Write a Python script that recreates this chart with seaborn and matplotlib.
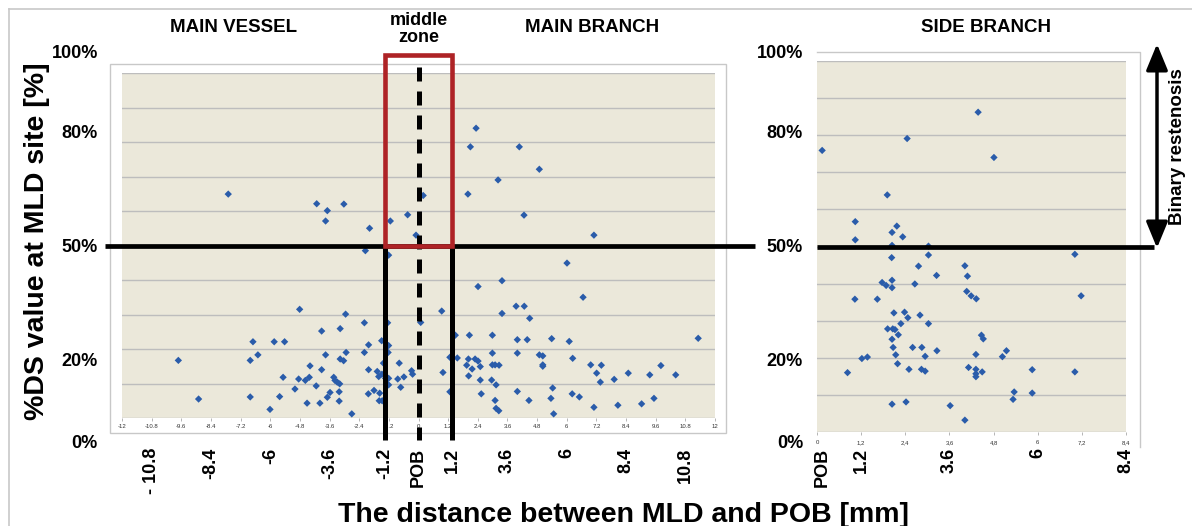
import matplotlib
matplotlib.use("Agg")
import matplotlib.pyplot as plt
import matplotlib.transforms as mtransforms
from matplotlib.patches import Rectangle
import numpy as np
import pandas as pd
import seaborn as sns

plt.rcParams["font.family"] = ["Liberation Sans", "DejaVu Sans"]

# ---------------------------------------------------------------------------
# Data: distance MLD-POB [mm] and %DS at MLD site
# ---------------------------------------------------------------------------
main_dist = [
    -7.70, -4.12, -3.69, -3.02, -3.76, -1.98, -1.14, -0.44, -0.10, -2.15,
    -1.21, 0.19, 2.33, 2.10, 4.08, 4.89, 3.22, 2.00, 4.27, 7.10,
    -4.81, -2.95, -2.19, -1.25, 0.09, -3.92, -3.17, -6.70, -5.84, -5.42,
    -1.49, -2.02, -1.21, -9.72, -6.81, -6.50, -3.76, -2.19, -2.93, -1.23,
    -3.17, -3.03, -0.78, -4.39, -3.92, -1.42, -2.02, -1.67, -0.28, -0.24,
    -5.48, -4.85, -4.58, -4.42, -3.43, -3.38, -3.29, -3.19, -1.61, -1.48,
    -1.33, -1.21, -0.84, -0.59, -4.14, -5.00, -1.21, -0.72, -1.80, -3.58,
    -3.21, -2.03, -1.57, -8.90, -6.81, -5.62, -3.69, -4.51, -3.99, -3.21,
    -1.59, -1.47, -6.01, -2.70,
    6.01, 3.38, 2.41, 6.66, 0.94, 3.95, 4.28, 3.38, 4.50, 1.49,
    2.06, 2.99, 4.00, 4.40, 5.39, 6.10, 11.32, 2.99, 4.00, 4.89,
    5.03, 6.24, 1.27, 1.57, 2.02, 2.29, 2.41, 1.95, 2.17, 2.50,
    2.99, 3.10, 3.26, 5.03, 5.03, 6.97, 7.40, 9.81, 0.99, 2.03,
    7.21, 8.49, 9.36, 10.41, 2.50, 2.96, 3.14, 7.36, 7.92, 5.43,
    2.54, 4.00, 6.22, 6.51, 9.53, 3.10, 4.47, 5.36, 9.03, 8.07,
    7.10, 3.14, 3.25, 5.47, 1.27,
]
main_ds = [
    64.9, 62.1, 60.1, 62.0, 57.1, 55.0, 57.1, 58.9, 53.0, 48.5,
    47.2, 64.5, 84.0, 78.6, 78.6, 72.1, 69.0, 64.9, 58.8, 53.0,
    31.5, 30.1, 27.6, 27.6, 27.7, 25.2, 25.9, 22.1, 22.1, 22.1,
    22.4, 21.2, 21.0, 16.7, 16.7, 18.3, 18.3, 19.0, 19.0, 19.0,
    17.1, 16.6, 15.9, 15.1, 14.0, 15.9, 14.0, 13.5, 13.7, 12.7,
    11.8, 11.3, 10.9, 11.8, 11.8, 10.9, 10.4, 9.9, 12.0, 12.7,
    11.5, 11.5, 11.3, 11.9, 9.3, 8.4, 9.6, 8.9, 8.0, 7.4,
    7.6, 7.0, 7.2, 5.5, 6.1, 6.2, 6.0, 4.3, 4.3, 4.9,
    5.0, 5.0, 2.5, 1.2,
    44.9, 39.8, 38.1, 35.0, 31.0, 32.4, 32.4, 30.3, 28.9, 24.0,
    24.0, 24.0, 22.7, 22.7, 23.0, 22.2, 23.1, 18.8, 18.8, 18.3,
    18.0, 17.3, 17.6, 17.4, 17.1, 17.1, 16.5, 15.3, 14.2, 14.9,
    15.4, 15.4, 15.3, 15.4, 15.0, 15.4, 15.3, 15.2, 13.2, 12.2,
    13.0, 13.0, 12.5, 12.5, 11.0, 11.0, 9.6, 10.4, 11.2, 8.7,
    7.0, 7.7, 7.0, 6.1, 5.7, 5.1, 5.1, 5.7, 4.1, 3.7,
    3.1, 2.8, 2.1, 1.2, 7.6,
]

side_dist = [
    4.38, 2.45, 0.14, 4.81, 1.91, 1.04, 2.17, 2.04, 2.33, 1.04,
    2.04, 3.03, 3.03, 2.03, 7.01, 2.76, 4.02, 3.25, 4.09, 1.77,
    1.88, 2.04, 2.04, 2.66, 1.03, 1.64, 4.07, 4.19, 4.33, 7.18,
    2.09, 2.38, 2.47, 2.80, 2.28, 3.03, 1.92, 2.06, 2.12, 2.21,
    2.04, 4.47, 4.52, 2.07, 2.60, 2.85, 3.26, 5.15, 2.14, 2.94,
    4.32, 5.04, 1.22, 1.37, 2.19, 2.50, 2.84, 2.94, 4.12, 4.32,
    4.32, 4.32, 4.49, 5.85, 7.01, 0.83, 5.36, 5.33, 5.85, 2.04,
    2.42, 3.62, 4.02,
]
side_ds = [
    86.2, 79.1, 75.9, 74.0, 63.9, 56.7, 55.5, 53.8, 52.6, 51.8,
    50.3, 50.1, 47.7, 47.0, 47.9, 44.7, 44.8, 42.2, 42.0, 40.3,
    39.5, 40.9, 38.9, 39.9, 35.8, 35.8, 37.9, 36.7, 35.9, 36.7,
    32.1, 32.3, 30.8, 31.5, 29.2, 29.2, 27.8, 27.8, 27.6, 26.2,
    25.0, 26.1, 25.1, 22.8, 22.8, 22.8, 21.9, 21.9, 20.8, 20.4,
    20.9, 20.3, 19.8, 20.2, 18.4, 16.9, 16.9, 16.4, 17.4, 16.9,
    15.7, 14.9, 16.2, 16.8, 16.2, 16.0, 10.8, 8.8, 10.5, 7.5,
    8.1, 7.1, 3.2,
]

# small axis ticks of the inner charts
main_ticks = [-12, -10.8, -9.6, -8.4, -7.2, -6, -4.8, -3.6, -2.4, -1.2, 0,
              1.2, 2.4, 3.6, 4.8, 6, 7.2, 8.4, 9.6, 10.8, 12]
side_ticks = [0, 1.2, 2.4, 3.6, 4.8, 6, 7.2, 8.4]

# big annotation labels under the charts
main_big_pos = [-10.8, -8.4, -6, -3.6, -1.35, 0, 1.37, 3.6, 6, 8.4, 10.8]
main_big_lbl = ["- 10.8", "-8.4", "-6", "-3.6", "-1.2", "POB", "1.2", "3.6",
                "6", "8.4", "10.8"]
side_big_pos = [0.15, 1.2, 3.6, 6, 8.4]
side_big_lbl = ["POB", "1.2", "3.6", "6", "8.4"]

pct_labels = ["100%", "80%", "50%", "20%", "0%"]
threshold = 50
zone_left, zone_right = -1.35, 1.37   # middle zone edges as drawn

main_df = pd.DataFrame({"dist": main_dist, "ds": main_ds})
side_df = pd.DataFrame({"dist": side_dist, "ds": side_ds})

# ---------------------------------------------------------------------------
W, H = 1192, 526
BLUE = "#2A5CAA"
BEIGE = "#EBE8DA"
GRID = "#BDBDBD"
RED = "#AE2326"


def px_axes(fig, x0, y0, x1, y1, **kw):
    # axes placed by pixel box (top-left origin)
    return fig.add_axes([x0 / W, 1 - y1 / H, (x1 - x0) / W, (y1 - y0) / H], **kw)


fig = plt.figure(figsize=(W / 100, H / 100), dpi=100)

# background layer: frame lines of the figure and chart areas
bg = px_axes(fig, 0, 0, W, H)
bg.set_xlim(0, W)
bg.set_ylim(H, 0)
bg.axis("off")
bg.plot([9, W], [9, 9], color="#C8C8C8", lw=1.2)
bg.plot([9, 9], [9, H], color="#C8C8C8", lw=1.2)
bg.add_patch(Rectangle((110, 64), 616, 369, fill=False, ec="#C8C8C8", lw=1))
bg.plot([817, 1140, 1140], [52, 52, 447], color="#C8C8C8", lw=1)


def style_inner(ax, ticks, labels, pad):
    ax.set_facecolor(BEIGE)
    ax.set_ylim(0, 100)
    ax.set_yticks(np.arange(0, 101, 10))
    ax.set_yticklabels([])
    ax.tick_params(axis="y", length=0)
    ax.yaxis.grid(True, color=GRID, lw=1)
    ax.xaxis.grid(False)
    ax.set_axisbelow(True)
    ax.set_xticks(ticks)
    ax.set_xticklabels(labels, fontsize=4.3, color="#333333")
    ax.tick_params(axis="x", length=2, width=0.5, color="#999999", pad=pad)
    for s in ax.spines.values():
        s.set_visible(False)
    ax.set_xlabel("")
    ax.set_ylabel("")


# ---- main vessel / main branch -------------------------------------------
ax1 = px_axes(fig, 122, 73, 715, 418)
sns.scatterplot(data=main_df, x="dist", y="ds", ax=ax1, marker="D", s=14,
                color=BLUE, edgecolor="none", linewidth=0, legend=False,
                zorder=3)
ax1.set_xlim(-12, 12)
main_tlbl = ["{:g}".format(round(v, 1) + 0.0) for v in main_ticks]
style_inner(ax1, main_ticks, main_tlbl, 2.5)

trans1 = mtransforms.blended_transform_factory(ax1.transAxes, ax1.transData)
ax1.plot([-0.0287, 1.0675], [threshold, threshold], color="black", lw=3.4,
         transform=trans1, clip_on=False, zorder=4, solid_capstyle="butt")
ax1.plot([zone_left, zone_left], [threshold, -6.4], color="black", lw=3.6,
         clip_on=False, zorder=4, solid_capstyle="butt")
ax1.plot([zone_right, zone_right], [threshold, -6.4], color="black", lw=3.6,
         clip_on=False, zorder=4, solid_capstyle="butt")
ax1.plot([0, 0], [101.7, -6.4], color="black", lw=3.6,
         linestyle=(0, (2.8, 2.0)), clip_on=False, zorder=4,
         dash_capstyle="butt")
ax1.add_patch(Rectangle((zone_left, threshold), zone_right - zone_left, 55.2,
                        fill=False, ec=RED, lw=3.3, clip_on=False, zorder=5))

big1 = mtransforms.blended_transform_factory(ax1.transData, ax1.transAxes)
for pos, lbl in zip(main_big_pos, main_big_lbl):
    ax1.text(pos, -0.087, lbl, transform=big1, rotation=90, ha="center",
             va="top", fontsize=13, fontweight="bold")

# ---- side branch -----------------------------------------------------------
ax2 = px_axes(fig, 817, 61, 1126, 432)
sns.scatterplot(data=side_df, x="dist", y="ds", ax=ax2, marker="D", s=14,
                color=BLUE, edgecolor="none", linewidth=0, legend=False,
                zorder=3)
ax2.set_xlim(0, 8.4)
side_tlbl = ["{:g}".format(v).replace(".", ",") for v in side_ticks]
style_inner(ax2, side_ticks, side_tlbl, 4)

trans2 = mtransforms.blended_transform_factory(ax2.transAxes, ax2.transData)
ax2.plot([0, 1.09], [threshold, threshold], color="black", lw=3.4,
         transform=trans2, clip_on=False, zorder=4, solid_capstyle="butt")
big2 = mtransforms.blended_transform_factory(ax2.transData, ax2.transAxes)
for pos, lbl in zip(side_big_pos, side_big_lbl):
    ax2.text(pos, -0.043, lbl, transform=big2, rotation=90, ha="center",
             va="top", fontsize=13, fontweight="bold")

# ---- foreground texts ------------------------------------------------------
fg = px_axes(fig, 0, 0, W, H)
fg.set_xlim(0, W)
fg.set_ylim(H, 0)
fg.axis("off")

bold = dict(fontweight="bold", color="black")
fg.text(234, 27, "MAIN VESSEL", ha="center", va="center", fontsize=13.5, **bold)
fg.text(419, 29, "middle\nzone", ha="center", va="center", fontsize=13,
        linespacing=0.95, **bold)
fg.text(592, 27, "MAIN BRANCH", ha="center", va="center", fontsize=13.5, **bold)
fg.text(986, 27, "SIDE BRANCH", ha="center", va="center", fontsize=13.5, **bold)

left_pct_y = [54, 133, 248, 362, 443]
right_pct_y = [53, 133, 248, 362, 443]
for lbl, yl, yr in zip(pct_labels, left_pct_y, right_pct_y):
    fg.text(98, yl, lbl, ha="right", va="center", fontsize=13, **bold)
    fg.text(803, yr, lbl, ha="right", va="center", fontsize=13, **bold)

fg.text(37, 241, "%DS value at MLD site [%]", rotation=90, ha="center",
        va="center", fontsize=20.5, **bold)
fg.text(623, 522, "The distance between MLD and POB [mm]", ha="center",
        va="baseline", fontsize=20.5, **bold)
fg.text(1178, 147, "Binary restenosis", rotation=90, ha="center",
        va="center", fontsize=13.5, **bold)
fg.annotate("", xy=(1157, 44), xytext=(1157, 248),
            arrowprops=dict(arrowstyle="<|-|>,head_length=0.8,head_width=0.33",
                            lw=2.5, color="black", mutation_scale=20,
                            shrinkA=0, shrinkB=0))

fig.savefig("out.png", dpi=100)
